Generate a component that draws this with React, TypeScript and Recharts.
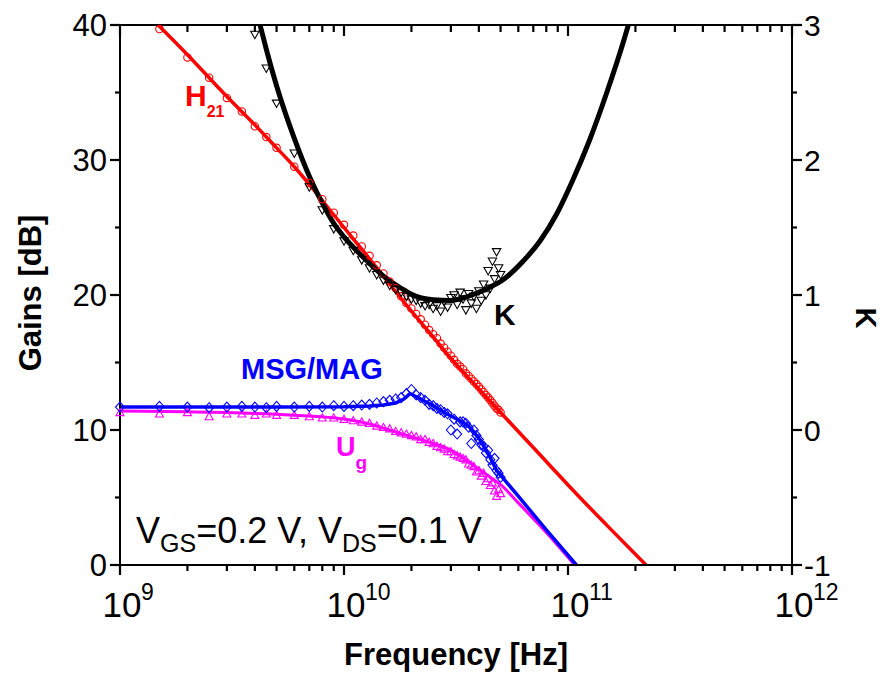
import React from "react";
import { ComposedChart, Line, Scatter, XAxis, YAxis } from "recharts";

// measured frequencies [GHz]
const FREQ_MEAS = [
  1, 1.5, 2, 2.5, 3, 3.5, 4, 4.5, 5, 6, 7, 8, 9, 10, 11, 12, 13, 14, 15, 16, 17, 18, 19, 20, 21, 22, 23, 24, 25, 26,
  27, 28, 29, 30, 31, 32, 33, 34, 35, 36, 37, 38, 39, 40, 41, 42, 43, 44, 45, 46, 47, 48, 49, 50,
];
const H21_MEAS = [
  43.1, 39.7, 37.6, 36.1, 34.6, 33.6, 32.5, 31.7, 30.9, 29.5, 28.3, 27.1, 26.1, 25.2, 24.4, 23.6, 22.9, 22.2, 21.6,
  21.0, 20.5, 19.9, 19.4, 19.0, 18.6, 18.2, 17.8, 17.4, 17.1, 16.8, 16.4, 16.1, 15.8, 15.5, 15.2, 14.9, 14.7, 14.5,
  14.2, 14.0, 13.8, 13.6, 13.4, 13.2, 13.0, 12.8, 12.6, 12.4, 12.2, 12.0, 11.8, 11.6, 11.5, 11.3,
];
const MSG_MEAS = [
  11.7, 11.75, 11.7, 11.65, 11.7, 11.75, 11.7, 11.65, 11.75, 11.7, 11.75, 11.7, 11.8, 11.75, 11.8, 11.85, 11.9, 12.0,
  12.1, 12.2, 12.3, 12.4, 12.7, 13.0, 12.6, 12.4, 12.2, 11.9, 11.8, 11.6, 11.5, 11.3, 11.2, 10.0, 10.8, 9.7, 10.6,
  10.6, 10.5, 10.2, 9.0, 10.0, 9.6, 9.3, 8.9, 8.8, 8.3, 8.5, 7.8, 7.4, 7.9, 7.0, 6.8, 6.5,
];
const UG_MEAS = [
  11.3, 11.2, 11.3, 11.0, 11.2, 11.2, 11.1, 11.2, 11.1, 11.1, 11.0, 10.9, 10.9, 10.8, 10.7, 10.6, 10.5, 10.3, 10.2,
  10.1, 9.9, 9.8, 9.7, 9.6, 9.5, 9.3, 9.3, 9.1, 9.0, 8.8, 8.7, 8.6, 8.4, 8.4, 8.2, 8.1, 8.0, 7.9, 7.8, 7.5, 7.4, 7.3,
  6.9, 7.0, 6.6, 6.8, 6.2, 6.4, 5.9, 6.1, 5.5, 5.1, 5.6, 5.3,
];
const FREQ_K_MEAS = [
  4, 4.5, 5, 6, 7, 8, 9, 10, 11, 12, 13, 14, 15, 16, 17, 18, 19, 20, 21, 22, 23, 24, 25, 26, 27, 28, 29, 30, 31, 32,
  33, 34, 35, 36, 37, 38, 39, 40, 41, 42, 43, 44, 45, 46, 47, 48, 49, 50,
];
const K_MEAS = [
  2.93, 2.68, 2.42, 2.05, 1.8, 1.63, 1.49, 1.4, 1.33, 1.26, 1.2, 1.15, 1.11, 1.07, 1.04, 1.02, 0.99, 0.97, 0.96, 0.94,
  0.92, 0.93, 0.9, 0.92, 0.88, 0.95, 0.91, 0.98, 1.0, 0.93, 1.02, 0.97, 0.89, 1.01, 0.94, 0.99, 0.9, 1.03, 0.96, 1.08,
  1.0, 1.18, 1.05, 1.25, 1.12, 1.32, 1.2, 1.15,
];

// fitted / modelled curves (each starts/ends where it meets the frame)
const FREQ_H21_FIT = [1.48, 2, 3, 4, 5, 6, 7, 8, 10, 12, 15, 17.5, 20, 25, 30, 40, 50, 70, 113, 150, 223];
const H21_FIT = [40.0, 37.8, 34.7, 32.6, 30.9, 29.5, 28.2, 27.0, 25.0, 23.4, 21.4, 20.0, 18.8, 16.9, 15.3, 13.05, 11.3, 8.7, 5.0, 2.9, 0];
const FREQ_MSG_FIT = [1, 2, 5, 10, 13, 15, 17, 18.5, 19.7, 22, 25, 28.7, 32, 35.3, 37, 40.5, 44.8, 48, 51.5, 60, 80, 109];
const MSG_FIT = [11.7, 11.7, 11.7, 11.72, 11.78, 11.85, 12.0, 12.3, 12.7, 12.3, 11.8, 11.2, 10.8, 10.4, 10.1, 9.26, 8.0, 7.0, 6.4, 5.1, 2.6, 0];
const FREQ_UG_FIT = [1, 2, 3, 4.5, 6, 9, 12.6, 17.8, 25, 30, 35, 40, 45, 50, 60, 80, 107];
const UG_FIT = [11.4, 11.35, 11.3, 11.2, 11.1, 10.9, 10.5, 9.75, 9.0, 8.5, 7.8, 7.1, 6.5, 5.95, 4.6, 2.4, 0];
const FREQ_K_FIT = [4.22, 4.5, 5, 6, 7, 8, 9, 10, 12, 15, 18, 20, 25, 30, 35, 40, 45, 50, 63, 75, 89, 105, 125, 149, 177, 186];
const K_FIT = [3.0, 2.82, 2.55, 2.16, 1.88, 1.68, 1.53, 1.43, 1.29, 1.14, 1.05, 1.005, 0.965, 0.96, 0.985, 1.02, 1.06, 1.1, 1.25, 1.4, 1.6, 1.85, 2.15, 2.5, 2.88, 3.0];

// axis ticks (majors on decades / round values, the rest minor)
const X_TICKS = [1e9, 1e10, 1e11].flatMap((d) => [1, 2, 3, 4, 5, 6, 7, 8, 9].map((m) => m * d)).concat(1e12);
const GAIN_TICKS = [0, 5, 10, 15, 20, 25, 30, 35, 40];
const K_TICKS = [-1, -0.5, 0, 0.5, 1, 1.5, 2, 2.5, 3];

const FONT = "'Liberation Sans', Arial, Helvetica, sans-serif";
const RED = "#ff0000";
const BLUE = "#0000ff";
const MAGENTA = "#ff00ff";
const AXIS_LINE = { stroke: "#000", strokeWidth: 2 };

const rows = (freqs: number[], vals: number[]) => freqs.map((g, i) => ({ f: g * 1e9, v: vals[i] }));
const isDecade = (v: number) => Math.abs(Math.log10(v) - Math.round(Math.log10(v))) < 1e-6;

// tick mark positions, placed through the axes' own scales
const bottomMarks = X_TICKS.map((f) => ({ f, v: 0, major: isDecade(f) }));
const topMarks = X_TICKS.map((f) => ({ f, v: 40, major: isDecade(f) }));
const leftMarks = GAIN_TICKS.map((v) => ({ f: 1e9, v, major: v % 10 === 0 }));
const rightMarks = K_TICKS.map((v) => ({ f: 1e12, v, major: Number.isInteger(v) }));

const tickMark = (dir: "down" | "left" | "right", majorLen: number, minorLen: number) => (p: any) => {
  const len = p.payload?.major ? majorLen : minorLen;
  if (dir === "down") return <rect x={p.cx - 1.1} y={p.cy} width={2.2} height={len} fill="#000" />;
  if (dir === "left") return <rect x={p.cx - len} y={p.cy - 1.1} width={len} height={2.2} fill="#000" />;
  return <rect x={p.cx} y={p.cy - 1.1} width={len} height={2.2} fill="#000" />;
};

function BottomLabel({ x, y, payload }: any) {
  if (!isDecade(payload.value)) return null;
  const exp = Math.round(Math.log10(payload.value));
  return (
    <g>
      <text x={x + 2} y={y + 52} textAnchor="middle" fontSize={35} fontFamily={FONT} fill="#000">
        10
      </text>
      <text x={x + 21} y={y + 35} fontSize={23} fontFamily={FONT} fill="#000">
        {exp}
      </text>
    </g>
  );
}

function LeftLabel({ x, y, payload }: any) {
  if (payload.value % 10 !== 0) return null;
  return (
    <text x={x - 13} y={y} dy="0.36em" textAnchor="end" fontSize={31} fontFamily={FONT} fill="#000">
      {payload.value}
    </text>
  );
}

function RightLabel({ x, y, payload }: any) {
  if (!Number.isInteger(payload.value)) return null;
  return (
    <text x={x + 12} y={y} dy="0.36em" textAnchor="start" fontSize={30} fontFamily={FONT} fill="#000">
      {payload.value}
    </text>
  );
}

const circle = (p: any) => <circle cx={p.cx} cy={p.cy} r={3.7} fill="none" stroke={RED} strokeWidth={1.1} />;
const diamond = (p: any) => (
  <polygon
    points={`${p.cx},${p.cy - 5} ${p.cx + 4.5},${p.cy} ${p.cx},${p.cy + 5} ${p.cx - 4.5},${p.cy}`}
    fill="none"
    stroke={BLUE}
    strokeWidth={1.1}
  />
);
const triUp = (p: any) => (
  <polygon
    points={`${p.cx - 4},${p.cy + 3.2} ${p.cx + 4},${p.cy + 3.2} ${p.cx},${p.cy - 4}`}
    fill="none"
    stroke={MAGENTA}
    strokeWidth={1.1}
  />
);
const triDown = (p: any) => (
  <polygon
    points={`${p.cx - 4.2},${p.cy - 3.2} ${p.cx + 4.2},${p.cy - 3.2} ${p.cx},${p.cy + 4.2}`}
    fill="none"
    stroke="#000"
    strokeWidth={1.1}
  />
);

export default function App() {
  const h21Meas = rows(FREQ_MEAS, H21_MEAS).filter((d) => d.v <= 40);
  const msgMeas = rows(FREQ_MEAS, MSG_MEAS);
  const ugMeas = rows(FREQ_MEAS, UG_MEAS);
  const kMeas = rows(FREQ_K_MEAS, K_MEAS);

  return (
    <div style={{ position: "absolute", left: 0, top: 0, width: 882, height: 675, background: "#fff" }}>
      <ComposedChart width={882} height={675} margin={{ top: 24, right: 0, bottom: 0, left: 0 }}>
        <XAxis
          xAxisId="bottom"
          dataKey="f"
          type="number"
          scale="log"
          domain={[1e9, 1e12]}
          ticks={X_TICKS}
          interval={0}
          height={110}
          tickSize={0}
          tickMargin={0}
          tickLine={false}
          axisLine={AXIS_LINE}
          tick={<BottomLabel />}
        />
        <XAxis
          xAxisId="top"
          orientation="top"
          dataKey="f"
          type="number"
          scale="log"
          domain={[1e9, 1e12]}
          ticks={X_TICKS}
          interval={0}
          height={1}
          tickLine={false}
          axisLine={AXIS_LINE}
          tick={false}
        />
        <YAxis
          yAxisId="gain"
          type="number"
          domain={[0, 40]}
          ticks={GAIN_TICKS}
          interval={0}
          width={120}
          tickSize={0}
          tickMargin={0}
          tickLine={false}
          axisLine={AXIS_LINE}
          tick={<LeftLabel />}
        />
        <YAxis
          yAxisId="k"
          orientation="right"
          type="number"
          domain={[-1, 3]}
          ticks={K_TICKS}
          interval={0}
          width={90}
          tickSize={0}
          tickMargin={0}
          tickLine={false}
          axisLine={AXIS_LINE}
          tick={<RightLabel />}
        />

        {/* axis tick marks */}
        <Scatter xAxisId="bottom" yAxisId="gain" data={bottomMarks} dataKey="v" shape={tickMark("down", 10, 6)} isAnimationActive={false} />
        <Scatter xAxisId="top" yAxisId="gain" data={topMarks} dataKey="v" shape={tickMark("down", 11, 7)} isAnimationActive={false} />
        <Scatter xAxisId="bottom" yAxisId="gain" data={leftMarks} dataKey="v" shape={tickMark("left", 10, 5)} isAnimationActive={false} />
        <Scatter xAxisId="bottom" yAxisId="k" data={rightMarks} dataKey="v" shape={tickMark("right", 10, 5)} isAnimationActive={false} />

        {/* U_g */}
        <Scatter xAxisId="bottom" yAxisId="gain" data={ugMeas} dataKey="v" shape={triUp} isAnimationActive={false} />
        <Line
          xAxisId="bottom"
          yAxisId="gain"
          data={rows(FREQ_UG_FIT, UG_FIT)}
          dataKey="v"
          type="monotone"
          stroke={MAGENTA}
          strokeWidth={3}
          dot={false}
          isAnimationActive={false}
        />
        {/* MSG/MAG */}
        <Scatter xAxisId="bottom" yAxisId="gain" data={msgMeas} dataKey="v" shape={diamond} isAnimationActive={false} />
        <Line
          xAxisId="bottom"
          yAxisId="gain"
          data={rows(FREQ_MSG_FIT, MSG_FIT)}
          dataKey="v"
          type="linear"
          stroke={BLUE}
          strokeWidth={3.5}
          dot={false}
          isAnimationActive={false}
        />
        {/* H21 */}
        <Scatter xAxisId="bottom" yAxisId="gain" data={h21Meas} dataKey="v" shape={circle} isAnimationActive={false} />
        <Line
          xAxisId="bottom"
          yAxisId="gain"
          data={rows(FREQ_H21_FIT, H21_FIT)}
          dataKey="v"
          type="monotone"
          stroke={RED}
          strokeWidth={3.5}
          dot={false}
          isAnimationActive={false}
        />
        {/* K */}
        <Scatter xAxisId="bottom" yAxisId="k" data={kMeas} dataKey="v" shape={triDown} isAnimationActive={false} />
        <Line
          xAxisId="bottom"
          yAxisId="k"
          data={rows(FREQ_K_FIT, K_FIT)}
          dataKey="v"
          type="monotone"
          stroke="#000"
          strokeWidth={5}
          dot={false}
          isAnimationActive={false}
        />

        {/* axis titles */}
        <text x={456} y={665} textAnchor="middle" fontSize={31} fontWeight="bold" fontFamily={FONT} fill="#000">
          Frequency [Hz]
        </text>
        <text
          transform="translate(30,293) rotate(-90)"
          textAnchor="middle"
          dominantBaseline="central"
          fontSize={31}
          fontWeight="bold"
          fontFamily={FONT}
          fill="#000"
        >
          Gains [dB]
        </text>
        <text
          transform="translate(866,318) rotate(90)"
          textAnchor="middle"
          dominantBaseline="central"
          fontSize={29}
          fontWeight="bold"
          fontFamily={FONT}
          fill="#000"
        >
          K
        </text>

        {/* curve labels */}
        <text x={185} y={106} fontSize={30} fontWeight="bold" fontFamily={FONT} fill={RED}>
          H<tspan fontSize={16} dy={11}>21</tspan>
        </text>
        <text x={494} y={325} fontSize={30} fontWeight="bold" fontFamily={FONT} fill="#000">
          K
        </text>
        <text x={241} y={379} fontSize={29} fontWeight="bold" fontFamily={FONT} fill={BLUE}>
          MSG/MAG
        </text>
        <text x={336} y={456} fontSize={27} fontWeight="bold" fontFamily={FONT} fill={MAGENTA}>
          U<tspan fontSize={19} dy={13}>g</tspan>
        </text>
        <text x={136} y={543} fontSize={36} fontFamily={FONT} fill="#000">
          V<tspan fontSize={25} dy={9}>GS</tspan>
          <tspan dy={-9}>=0.2 V, V</tspan>
          <tspan fontSize={25} dy={9}>DS</tspan>
          <tspan dy={-9}>=0.1 V</tspan>
        </text>
      </ComposedChart>
    </div>
  );
}
